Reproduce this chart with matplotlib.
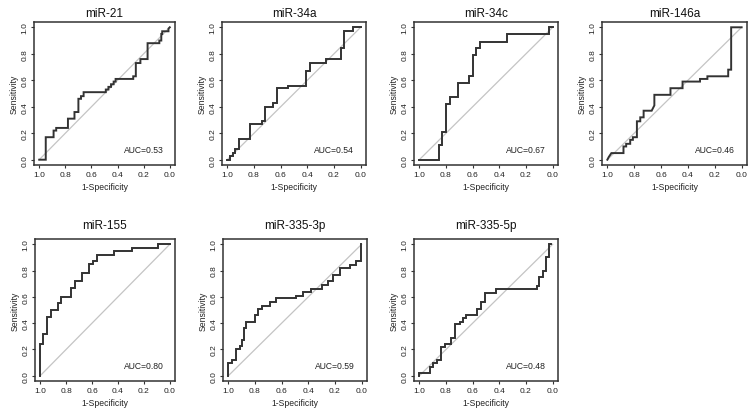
import matplotlib
matplotlib.use("Agg")
import matplotlib.pyplot as plt

plt.rcParams['font.family'] = ['Liberation Sans', 'DejaVu Sans']

titles = ["miR-21", "miR-34a", "miR-34c", "miR-146a", "miR-155", "miR-335-3p", "miR-335-5p"]
auc_values = [0.53, 0.54, 0.67, 0.46, 0.80, 0.59, 0.48]

spec_21 = [1.0, 0.95, 0.95, 0.89, 0.89, 0.87, 0.87, 0.78, 0.78, 0.73, 0.73, 0.70, 0.70, 0.68, 0.68, 0.66, 0.66,
           0.49, 0.49, 0.47, 0.47, 0.45, 0.45, 0.43, 0.43, 0.415, 0.415, 0.28, 0.28, 0.26, 0.26, 0.225, 0.225,
           0.17, 0.17, 0.08, 0.08, 0.065, 0.065, 0.058, 0.058, 0.01, 0.01, 0.0]
sens_21 = [0.0, 0.0, 0.17, 0.17, 0.22, 0.22, 0.24, 0.24, 0.31, 0.31, 0.36, 0.36, 0.46, 0.46, 0.48, 0.48, 0.51,
           0.51, 0.53, 0.53, 0.55, 0.55, 0.57, 0.57, 0.59, 0.59, 0.61, 0.61, 0.63, 0.63, 0.73, 0.73, 0.76,
           0.76, 0.88, 0.88, 0.90, 0.90, 0.95, 0.95, 0.97, 0.97, 0.99, 1.0]

spec_34a = [1.0, 0.98, 0.98, 0.96, 0.96, 0.94, 0.94, 0.91, 0.91, 0.83, 0.83, 0.74, 0.74, 0.72, 0.72, 0.655, 0.655,
            0.63, 0.63, 0.545, 0.545, 0.41, 0.41, 0.38, 0.38, 0.26, 0.26, 0.15, 0.15, 0.125, 0.125, 0.06, 0.06, 0.0]
sens_34a = [0.0, 0.0, 0.03, 0.03, 0.05, 0.05, 0.08, 0.08, 0.16, 0.16, 0.27, 0.27, 0.29, 0.29, 0.40, 0.40, 0.43,
            0.43, 0.54, 0.54, 0.56, 0.56, 0.67, 0.67, 0.73, 0.73, 0.76, 0.76, 0.84, 0.84, 0.97, 0.97, 1.0, 1.0]

spec_34c = [1.0, 0.853, 0.853, 0.83, 0.83, 0.80, 0.80, 0.77, 0.77, 0.71, 0.71, 0.63, 0.63, 0.60, 0.60, 0.575, 0.575,
            0.545, 0.545, 0.34, 0.34, 0.03, 0.03, 0.0]
sens_34c = [0.0, 0.0, 0.11, 0.11, 0.21, 0.21, 0.42, 0.42, 0.47, 0.47, 0.58, 0.58, 0.63, 0.63, 0.79, 0.79, 0.84,
            0.84, 0.89, 0.89, 0.95, 0.95, 1.0, 1.0]

spec_146a = [1.0, 0.99, 0.97, 0.88, 0.88, 0.86, 0.86, 0.83, 0.83, 0.81, 0.81, 0.78, 0.78, 0.755, 0.755, 0.73, 0.73,
             0.67, 0.66, 0.65, 0.65, 0.53, 0.53, 0.44, 0.44, 0.31, 0.31, 0.255, 0.255, 0.10, 0.10, 0.078, 0.078, 0.0]
sens_146a = [0.0, 0.02, 0.05, 0.05, 0.10, 0.10, 0.12, 0.12, 0.15, 0.15, 0.17, 0.17, 0.29, 0.29, 0.32, 0.32, 0.37,
             0.37, 0.39, 0.41, 0.49, 0.49, 0.54, 0.54, 0.59, 0.59, 0.61, 0.61, 0.63, 0.63, 0.68, 0.68, 1.0, 1.0]

spec_155 = [1.0, 1.0, 0.975, 0.975, 0.95, 0.95, 0.915, 0.915, 0.865, 0.865, 0.84, 0.84, 0.76, 0.76, 0.73, 0.73,
            0.68, 0.68, 0.62, 0.62, 0.59, 0.59, 0.565, 0.565, 0.43, 0.43, 0.29, 0.29, 0.09, 0.09, 0.0]
sens_155 = [0.0, 0.24, 0.24, 0.32, 0.32, 0.45, 0.45, 0.50, 0.50, 0.55, 0.55, 0.60, 0.60, 0.67, 0.67, 0.72,
            0.72, 0.78, 0.78, 0.85, 0.85, 0.87, 0.87, 0.92, 0.92, 0.95, 0.95, 0.97, 0.97, 1.0, 1.0]

spec_335_3p = [1.0, 1.0, 0.97, 0.97, 0.94, 0.94, 0.91, 0.91, 0.90, 0.90, 0.885, 0.885, 0.87, 0.87, 0.80, 0.80,
               0.775, 0.775, 0.75, 0.75, 0.69, 0.69, 0.64, 0.64, 0.49, 0.49, 0.44, 0.44, 0.38, 0.38, 0.30, 0.30,
               0.25, 0.25, 0.215, 0.215, 0.165, 0.165, 0.09, 0.09, 0.04, 0.04, 0.005, 0.005]
sens_335_3p = [0.0, 0.10, 0.10, 0.12, 0.12, 0.20, 0.20, 0.23, 0.23, 0.27, 0.27, 0.36, 0.36, 0.41, 0.41, 0.46,
               0.46, 0.51, 0.51, 0.53, 0.53, 0.56, 0.56, 0.59, 0.59, 0.61, 0.61, 0.64, 0.64, 0.66, 0.66, 0.69,
               0.69, 0.72, 0.72, 0.77, 0.77, 0.82, 0.82, 0.84, 0.84, 0.87, 0.87, 1.0]

spec_335_5p = [1.0, 1.0, 0.92, 0.92, 0.90, 0.90, 0.87, 0.87, 0.84, 0.84, 0.81, 0.81, 0.76, 0.76, 0.73, 0.73,
               0.695, 0.695, 0.67, 0.67, 0.65, 0.65, 0.57, 0.57, 0.54, 0.54, 0.51, 0.51, 0.425, 0.425, 0.12, 0.12,
               0.10, 0.10, 0.07, 0.07, 0.05, 0.05, 0.025, 0.025, 0.01]
sens_335_5p = [0.0, 0.02, 0.02, 0.07, 0.07, 0.10, 0.10, 0.12, 0.12, 0.22, 0.22, 0.24, 0.24, 0.29, 0.29, 0.39,
               0.39, 0.41, 0.41, 0.44, 0.44, 0.46, 0.46, 0.51, 0.51, 0.56, 0.56, 0.63, 0.63, 0.66, 0.66, 0.68,
               0.68, 0.75, 0.75, 0.80, 0.80, 0.90, 0.90, 1.0, 1.0]

specs = [spec_21, spec_34a, spec_34c, spec_146a, spec_155, spec_335_3p, spec_335_5p]
senss = [sens_21, sens_34a, sens_34c, sens_146a, sens_155, sens_335_3p, sens_335_5p]
ticks = [0.0, 0.2, 0.4, 0.6, 0.8, 1.0]
tick_labels = ["0.0", "0.2", "0.4", "0.6", "0.8", "1.0"]

W, H = 755, 410
fig = plt.figure(figsize=(W / 100, H / 100), dpi=100)

# pixel boxes (left, top, right, bottom)
boxes = [(34, 23, 175, 166), (222, 23, 366, 166), (414, 23, 558, 166), (602, 23, 747, 166),
         (35, 240, 175, 382), (223, 240, 367, 382), (414, 240, 558, 382)]

for i, (l, t, r, b) in enumerate(boxes):
    ax = fig.add_axes([l / W, 1 - b / H, (r - l) / W, (b - t) / H])
    ax.plot([1, 0], [0, 1], color="#c4c4c4", lw=0.9, zorder=1)
    ax.plot(specs[i], senss[i], color="#333333", lw=1.4, zorder=2, solid_joinstyle="miter")
    ax.set_xlim(1.04, -0.04)
    ax.set_ylim(-0.04, 1.04)
    ax.set_xticks(ticks)
    ax.set_xticklabels(tick_labels, fontsize=6)
    ax.set_yticks(ticks)
    ax.set_yticklabels(tick_labels, fontsize=6, rotation=90, va="center")
    ax.tick_params(length=2.5, width=0.8, pad=1.5, color="#333333", labelcolor="#222222")
    for s in ax.spines.values():
        s.set_linewidth(1.1)
        s.set_color("#333333")
    ax.set_xlabel("1-Specificity", fontsize=6.2, labelpad=3, color="#222222")
    ax.set_ylabel("Sensitivity", fontsize=6.2, labelpad=2, color="#222222")
    ax.set_title(titles[i], fontsize=8.5, pad=(4 if i < 4 else 8), color="#111111")
    ax.text(0.2, 0.08, "AUC=%.2f" % auc_values[i], fontsize=6.2, ha="center", va="center", color="#222222")

fig.savefig("out.png", dpi=100)
